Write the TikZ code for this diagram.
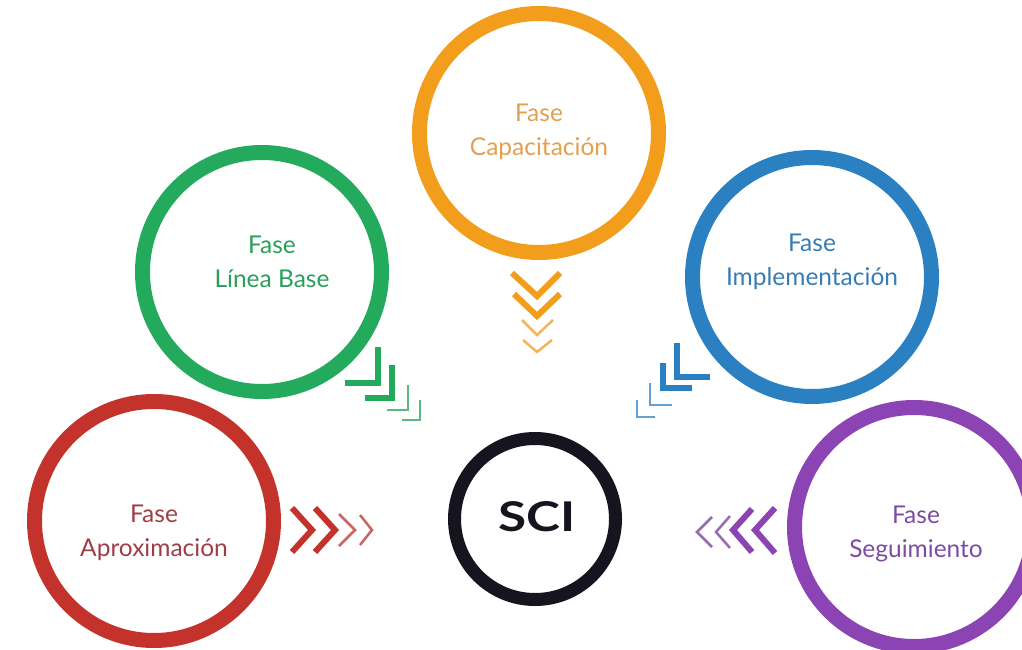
\documentclass[tikz,border=0pt]{standalone}
\usepackage{fontspec}
\usepackage{graphicx}
\setmainfont{Lato}
\definecolor{cOr}{RGB}{243,157,28}
\definecolor{cOrL}{RGB}{246,180,90}
\definecolor{cOrT}{RGB}{226,160,80}
\definecolor{cGr}{RGB}{36,170,92}
\definecolor{cGrL}{RGB}{90,185,130}
\definecolor{cGrT}{RGB}{40,160,90}
\definecolor{cBl}{RGB}{42,128,192}
\definecolor{cBlL}{RGB}{100,160,210}
\definecolor{cBlT}{RGB}{55,125,180}
\definecolor{cRd}{RGB}{196,50,44}
\definecolor{cRdL}{RGB}{205,100,100}
\definecolor{cRdT}{RGB}{160,60,70}
\definecolor{cPu}{RGB}{140,68,180}
\definecolor{cPuL}{RGB}{150,110,175}
\definecolor{cPuT}{RGB}{125,75,165}
\definecolor{cSci}{RGB}{22,20,30}
\begin{document}
\begin{tikzpicture}[x=1pt,y=-1pt,
  ring/.style={circle, draw=#1, line width=15pt, minimum size=239pt, inner sep=0pt},
  lab/.style={text=#1, align=center, font=\fontsize{24.5}{34}\selectfont, inner sep=0pt},
  chevT/.style={line width=6pt, miter limit=10},
  chevt/.style={line width=2.5pt, miter limit=10}]
\useasboundingbox (0,0) rectangle (1022,650);
% circles
\node[ring=cOr] (cap) at (539,133) {};
\node[ring=cGr] (lin) at (262,272) {};
\node[ring=cBl] (imp) at (812,277) {};
\node[ring=cRd] (apr) at (154,521) {};
\node[ring=cPu] (seg) at (914,527) {};
\node[ring=cSci, line width=13pt, minimum size=161pt] (sci) at (535,519) {};
% labels
\node[lab=cOrT] (capT) at (539,132) {Fase\\Capacitación};
\node[lab=cGrT] (linT) at (272,262) {Fase\\Línea Base};
\node[lab=cBlT] (impT) at (812,262) {Fase\\Implementación};
\node[lab=cRdT] (aprT) at (154,533) {Fase\\Aproximación};
\node[lab=cPuT] (segT) at (916,534) {Fase\\Seguimiento};
\node[text=cSci, font=\fontsize{41}{41}\selectfont\bfseries, inner sep=0pt] (sciT) at (537,517) {\scalebox{1.25}[1]{SCI}};
% orange chevrons (down)
\draw[chevT,cOr] (512,273) -- (537,296) -- (560,273);
\draw[chevT,cOr] (514,294) -- (537,316) -- (560,294);
\draw[chevt,cOrL] (522,320) -- (537,335) -- (553,320);
\draw[chevt,cOrL] (523,340) -- (537,352) -- (552,340);
% green chevrons (down-right)
\draw[chevT,cGr] (378,347) -- (378,383) -- (345,383);
\draw[chevT,cGr] (392,365) -- (392,398) -- (365,398);
\draw[chevt,cGrL] (408,385) -- (408,410) -- (387,410);
\draw[chevt,cGrL] (420,400) -- (420,420) -- (402,420);
% blue chevrons (down-left)
\draw[chevT,cBl] (677,343) -- (677,377) -- (710,377);
\draw[chevT,cBl] (663,363) -- (663,388) -- (692,388);
\draw[chevt,cBlL] (650,383) -- (650,405) -- (672,405);
\draw[chevt,cBlL] (637,400) -- (637,417) -- (655,417);
% red chevrons (right)
\draw[chevT,cRd] (292,508) -- (312,530) -- (292,552);
\draw[chevT,cRd] (315,508) -- (335,530) -- (315,552);
\draw[chevt,cRdL] (339,514) -- (355,530) -- (339,546);
\draw[chevt,cRdL] (360,515) -- (372,530) -- (360,545);
% purple chevrons (left)
\draw[chevt,cPuL] (712,517) -- (697,532) -- (712,547);
\draw[chevt,cPuL] (730,516) -- (716,532) -- (730,548);
\draw[chevT,cPu] (752,509) -- (733,530) -- (752,552);
\draw[chevT,cPu] (775,508) -- (755,530) -- (775,553);
\end{tikzpicture}
\end{document}
